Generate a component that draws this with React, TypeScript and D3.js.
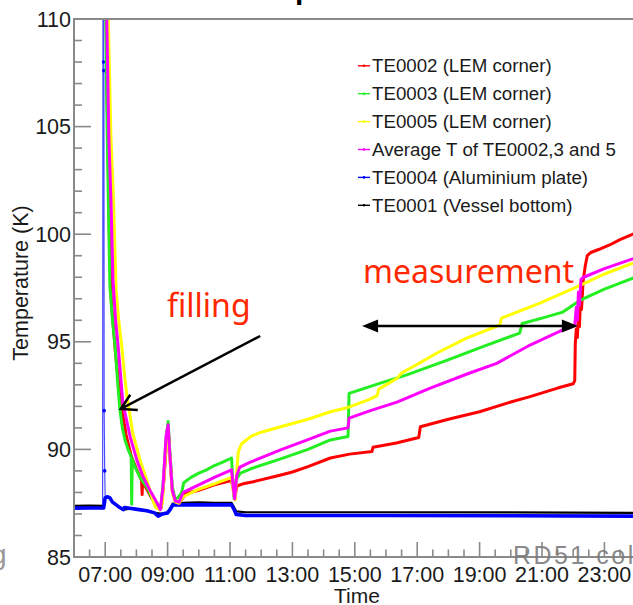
import React from "react";
import * as d3 from "d3";

type Pt = [string, number];

// Temperature logs, [clock time, kelvin]
const te0002: Pt[] = [
  ["07:00", 118], ["07:02", 110], ["07:05", 104.5], ["07:08", 100], ["07:12", 96.8], ["07:20", 94.4],
  ["07:30", 92.2], ["07:40", 90.7], ["07:50", 89.7], ["08:00", 89.1], ["08:10", 88.55], ["08:11", 87.9],
  ["08:12", 88.5], ["08:20", 88.15], ["08:28", 87.8], ["08:36", 87.5], ["08:44", 87.3], ["08:48", 87.3],
  ["08:53", 88.6], ["08:58", 90.4], ["09:01", 91.0], ["09:04", 89.8], ["09:09", 88.1], ["09:15", 87.6],
  ["09:22", 87.5], ["09:28", 87.7], ["09:35", 87.95], ["10:00", 88.1], ["10:30", 88.35], ["11:03", 88.55],
  ["11:06", 88.2], ["11:09", 87.7], ["11:13", 88.3], ["11:25", 88.4], ["11:45", 88.5], ["12:36", 88.8],
  ["13:00", 88.95], ["13:30", 89.2], ["14:13", 89.6], ["14:50", 89.78], ["15:33", 89.9], ["15:35", 90.1],
  ["16:20", 90.3], ["17:03", 90.55], ["17:06", 91.05], ["18:00", 91.4], ["19:00", 91.75], ["20:00", 92.2],
  ["20:37", 92.45], ["21:30", 92.85], ["22:00", 93.05], ["22:03", 93.2], ["22:04", 94.9], ["22:06", 95.6],
  ["22:08", 95.2], ["22:10", 96.3], ["22:12", 95.7], ["22:14", 97.0], ["22:16", 96.5], ["22:19", 97.8],
  ["22:23", 98.5], ["22:27", 99.0], ["22:34", 99.15], ["22:50", 99.3], ["23:10", 99.5], ["23:30", 99.75],
  ["24:00", 100.05],
];

const te0003: Pt[] = [
  ["07:00", 117], ["07:01", 110], ["07:03", 106.2], ["07:06", 101.6], ["07:09", 97.6], ["07:14", 96.0],
  ["07:19", 94.8], ["07:24", 93.1], ["07:28", 91.9], ["07:33", 91.0], ["07:38", 90.45], ["07:44", 90.0],
  ["07:50", 89.65], ["07:51", 87.45], ["07:52", 89.55], ["07:57", 89.2], ["08:07", 88.7], ["08:20", 88.25],
  ["08:32", 87.65], ["08:42", 87.35], ["08:47", 87.3], ["08:52", 88.6], ["08:57", 90.5], ["09:01", 91.3],
  ["09:04", 90.0], ["09:09", 88.3], ["09:14", 87.7], ["09:20", 87.75], ["09:27", 88.0], ["09:31", 88.45],
  ["09:45", 88.7], ["10:00", 88.9], ["10:15", 89.05], ["10:30", 89.25], ["10:45", 89.4], ["11:03", 89.6],
  ["11:05", 88.7], ["11:08", 87.7], ["11:12", 88.6], ["11:20", 88.9], ["11:40", 89.1], ["12:36", 89.55],
  ["13:30", 90.0], ["14:13", 90.44], ["14:47", 90.6], ["14:49", 92.6], ["15:20", 92.85], ["15:49", 93.08],
  ["16:40", 93.46], ["17:58", 94.15], ["19:14", 94.85], ["20:17", 95.4], ["20:22", 95.85], ["21:00", 96.1],
  ["21:40", 96.38], ["22:15", 96.95], ["23:00", 97.45], ["24:00", 98.0],
];

const te0005: Pt[] = [
  ["07:00", 122], ["07:06", 110], ["07:11", 104.5], ["07:16", 101.6], ["07:21", 97.4], ["07:26", 96.0],
  ["07:32", 94.77], ["07:37", 93.5], ["07:42", 92.44], ["07:53", 90.75], ["08:07", 89.5], ["08:20", 88.57],
  ["08:30", 87.8], ["08:36", 87.33], ["08:45", 87.2], ["08:50", 87.5], ["08:55", 89.5], ["09:01", 90.9],
  ["09:04", 89.8], ["09:09", 88.0], ["09:15", 87.55], ["09:22", 87.5], ["09:30", 87.8], ["10:00", 88.15],
  ["10:30", 88.4], ["11:03", 88.7], ["11:06", 88.1], ["11:10", 87.65], ["11:13", 89.0], ["11:16", 89.9],
  ["11:22", 90.25], ["11:40", 90.6], ["12:00", 90.8], ["12:36", 91.04], ["13:30", 91.4], ["14:13", 91.75],
  ["14:47", 91.95], ["15:26", 92.3], ["15:43", 92.5], ["15:46", 92.8], ["16:21", 93.3], ["16:30", 93.55],
  ["17:00", 93.95], ["17:38", 94.48], ["18:35", 95.17], ["19:39", 95.78], ["19:42", 96.1], ["20:56", 96.8],
  ["22:07", 97.55], ["23:00", 98.15], ["24:00", 98.7],
];

const average: Pt[] = [
  ["07:00", 120], ["07:03", 110], ["07:07", 104.5], ["07:11", 101.6], ["07:15", 97.87], ["07:20", 96.0],
  ["07:25", 94.77], ["07:34", 92.15], ["07:48", 90.58], ["08:01", 89.5], ["08:13", 88.72], ["08:26", 88.1],
  ["08:40", 87.5], ["08:46", 87.2], ["08:51", 88.2], ["08:57", 90.6], ["09:01", 91.15], ["09:04", 89.9],
  ["09:09", 88.1], ["09:15", 87.6], ["09:22", 87.55], ["09:30", 88.0], ["10:00", 88.35], ["10:30", 88.7],
  ["11:03", 89.05], ["11:06", 88.3], ["11:09", 87.7], ["11:13", 88.8], ["11:19", 89.18], ["11:38", 89.4],
  ["12:36", 89.97], ["13:30", 90.45], ["14:13", 90.85], ["14:47", 91.0], ["14:49", 91.45], ["15:30", 91.8],
  ["16:21", 92.2], ["17:25", 92.85], ["18:41", 93.55], ["19:33", 94.0], ["20:37", 94.85], ["21:40", 95.55],
  ["22:03", 95.75], ["22:06", 96.6], ["22:08", 96.0], ["22:10", 97.3], ["22:12", 96.7], ["22:15", 97.9],
  ["22:20", 98.0], ["23:00", 98.4], ["24:00", 98.9],
];

const te0004: Pt[] = [
  ["06:00", 87.27], ["06:30", 87.28], ["06:57", 87.28], ["07:00", 87.75], ["07:04", 87.8],
  ["07:09", 87.75], ["07:14", 87.55], ["07:25", 87.35], ["07:35", 87.2], ["07:37", 87.3], ["07:50", 87.25],
  ["08:05", 87.2], ["08:20", 87.15], ["08:35", 87.05], ["08:42", 86.9], ["08:50", 87.0], ["09:00", 87.05],
  ["09:06", 87.25], ["09:10", 87.42], ["09:30", 87.42], ["10:00", 87.42], ["10:30", 87.42], ["11:03", 87.42],
  ["11:07", 87.25], ["11:12", 86.98], ["11:30", 86.93], ["13:00", 86.93], ["16:00", 86.93], ["20:00", 86.92],
  ["24:00", 86.9],
];

// sparse readings of the aluminium plate during the fast transient
const te0004Spike: Pt[] = [
  ["06:55", 87.3], ["06:56", 120], ["06:57", 108.0], ["06:57:30", 107.6], ["06:58", 91.8], ["06:59", 89.0],
  ["07:00", 87.75],
];

const te0001: Pt[] = [
  ["06:00", 87.38], ["06:30", 87.39], ["06:57", 87.38], ["07:00", 87.75], ["07:04", 87.8],
  ["07:09", 87.75], ["07:14", 87.55], ["07:25", 87.35], ["07:35", 87.2], ["07:50", 87.25], ["08:05", 87.2],
  ["08:20", 87.15], ["08:35", 87.05], ["08:50", 87.0], ["09:00", 87.05], ["09:10", 87.48], ["09:30", 87.52],
  ["10:00", 87.54], ["10:30", 87.52], ["11:03", 87.52], ["11:07", 87.35], ["11:12", 87.12], ["11:30", 87.08],
  ["13:00", 87.08], ["16:00", 87.08], ["20:00", 87.07], ["24:00", 87.05],
];

const legendLabels = [
  "TE0002 (LEM corner)",
  "TE0003 (LEM corner)",
  "TE0005 (LEM corner)",
  "Average T of TE0002,3 and 5",
  "TE0004 (Aluminium plate)",
  "TE0001 (Vessel bottom)",
];
const legendColors = ["#ff0000", "#22ee22", "#ffff00", "#ff00ff", "#0000ff", "#000000"];

const xLabelHours = [7, 9, 11, 13, 15, 17, 19, 21, 23];
const yLabelValues = [85, 90, 95, 100, 105, 110];

// annotation anchors in data space: [time, kelvin]
const fillingArrow: Pt[] = [["11:58", 95.27], ["07:30", 91.88]];
const fillingLabel: Pt = ["08:59", 96.15];
const measurementArrow: Pt[] = [["15:14", 95.73], ["22:09", 95.73]];
const measurementLabel: Pt = ["15:16", 97.73];

const toHours = (t: string) => {
  const [h, m, s = "0"] = t.split(":");
  return +h + +m / 60 + +s / 3600;
};

const W = 633;
const H = 605;
const LEFT = 74;
const TOP = 19;
const BOTTOM = 557;
const HOUR_PX = 31.2;

const x = d3.scaleLinear().domain([6, 24]).range([LEFT, LEFT + 18 * HOUR_PX]);
const y = d3.scaleLinear().domain([85, 110]).range([BOTTOM, TOP]);

const line = d3
  .line<Pt>()
  .x((d) => x(toHours(d[0])))
  .y((d) => y(d[1]));

const AXIS = "#8a8a8a";
const SANS = "'Liberation Sans', Arial, sans-serif";
const NOTE = "'Noto Sans', 'Open Sans', sans-serif";
const NOTE_RED = "#ff2800";

export default function App() {
  // drawing order: vessel bottom, plate, then the LEM sensors and their average
  const series = [
    { data: te0001, color: legendColors[5], w: 2.2 },
    { data: te0004, color: legendColors[4], w: 3.6 },
    { data: te0002, color: legendColors[0], w: 3 },
    { data: te0003, color: legendColors[1], w: 3 },
    { data: te0005, color: legendColors[2], w: 3 },
    { data: average, color: legendColors[3], w: 3 },
  ];

  const xMinor = d3.range(6.5, 24.01, 0.5).filter((h) => !xLabelHours.includes(h));
  const yMinor = d3.range(86, 110, 1).filter((v) => v % 5 !== 0);

  const fa0 = [x(toHours(fillingArrow[0][0])), y(fillingArrow[0][1])];
  const fa1 = [x(toHours(fillingArrow[1][0])), y(fillingArrow[1][1])];
  const ang = Math.atan2(fa0[1] - fa1[1], fa0[0] - fa1[0]);
  const wing = (da: number) => [
    fa1[0] + 17 * Math.cos(ang + da),
    fa1[1] + 17 * Math.sin(ang + da),
  ];
  const w1 = wing(-0.5);
  const w2 = wing(0.55);

  const mx0 = x(toHours(measurementArrow[0][0]));
  const mx1 = x(toHours(measurementArrow[1][0]));
  const my = y(measurementArrow[0][1]);

  return (
    <svg
      width={W}
      height={H}
      style={{ position: "absolute", left: 0, top: 0, background: "#fff" }}
    >
      <defs>
        <clipPath id="plotArea">
          <rect x={LEFT} y={TOP} width={W - LEFT + 10} height={BOTTOM - TOP} />
        </clipPath>
      </defs>
      <rect width={W} height={H} fill="#fff" />

      {/* slide title, mostly outside the frame */}
      <text x={295} y={-1} fontFamily={SANS} fontWeight="bold" fontSize={30} fill="#000">
        p
      </text>
      <text x={-9} y={564} fontFamily={SANS} fontSize={28} fill="#999">
        g
      </text>

      {/* data */}
      <g clipPath="url(#plotArea)">
        <path d={line(te0004Spike) || ""} fill="none" stroke="#0000ff" strokeWidth={1.2} strokeOpacity={0.7} />
        {te0004Spike.slice(1, -1).map((d, i) => (
          <circle key={i} cx={x(toHours(d[0]))} cy={y(d[1])} r={1.8} fill="#0000ff" />
        ))}
        {series.map((s, i) => (
          <path
            key={i}
            d={line(s.data) || ""}
            fill="none"
            stroke={s.color}
            strokeWidth={s.w}
            strokeLinejoin="round"
            strokeLinecap="round"
          />
        ))}
      </g>

      {/* frame */}
      <line x1={LEFT} x2={W} y1={TOP} y2={TOP} stroke={AXIS} strokeWidth={2} />
      <line x1={LEFT} x2={LEFT} y1={TOP - 1} y2={BOTTOM + 1} stroke={AXIS} strokeWidth={2} />
      <line x1={LEFT} x2={W} y1={BOTTOM} y2={BOTTOM} stroke={AXIS} strokeWidth={2} />

      {/* x ticks */}
      {xLabelHours.map((h) => (
        <line key={"xM" + h} x1={x(h)} x2={x(h)} y1={BOTTOM} y2={BOTTOM - 15} stroke={AXIS} strokeWidth={1.6} />
      ))}
      {xMinor.map((h) => (
        <line key={"xm" + h} x1={x(h)} x2={x(h)} y1={BOTTOM} y2={BOTTOM - 7.5} stroke={AXIS} strokeWidth={1.6} />
      ))}

      {/* footer, beneath the tick labels */}
      <text
        x={513}
        y={564}
        fontFamily={SANS}
        fontSize={25}
        letterSpacing={2.5}
        fill="#7a7a7a"
        fillOpacity={0.9}
      >
        RD51 collaboration
      </text>

      {xLabelHours.map((h) => (
        <text
          key={"xl" + h}
          x={x(h)}
          y={582}
          textAnchor="middle"
          fontFamily={SANS}
          fontSize={21.5}
          fill="#1a1a1a"
        >
          {`${String(h).padStart(2, "0")}:00`}
        </text>
      ))}
      <text x={357} y={603} textAnchor="middle" fontFamily={SANS} fontSize={21} fill="#1a1a1a">
        Time
      </text>

      {/* y ticks */}
      {yLabelValues.map((v) => (
        <line key={"yM" + v} x1={LEFT} x2={LEFT + 17} y1={y(v)} y2={y(v)} stroke={AXIS} strokeWidth={1.6} />
      ))}
      {yMinor.map((v) => (
        <line key={"ym" + v} x1={LEFT} x2={LEFT + 8} y1={y(v)} y2={y(v)} stroke={AXIS} strokeWidth={1.6} />
      ))}
      {yLabelValues.map((v) => (
        <text
          key={"yl" + v}
          x={71}
          y={y(v) + 7.5}
          textAnchor="end"
          fontFamily={SANS}
          fontSize={21.5}
          fill="#1a1a1a"
        >
          {v}
        </text>
      ))}
      <text
        transform={`translate(28, 283) rotate(-90)`}
        textAnchor="middle"
        fontFamily={SANS}
        fontSize={21.5}
        fill="#1a1a1a"
      >
        Temperature (K)
      </text>

      {/* legend */}
      {legendLabels.map((label, i) => {
        const base = 72.3 + i * 27.9;
        return (
          <g key={label}>
            <line x1={358} x2={370} y1={base - 6.5} y2={base - 6.5} stroke={legendColors[i]} strokeWidth={1.4} />
            <circle cx={364} cy={base - 6.5} r={1.3} fill={legendColors[i]} />
            <text x={372} y={base} fontFamily={SANS} fontSize={18.7} fill="#1a1a1a">
              {label}
            </text>
          </g>
        );
      })}

      {/* annotations */}
      <text
        x={x(toHours(fillingLabel[0]))}
        y={y(fillingLabel[1])}
        fontFamily={NOTE}
        fontSize={32}
        fill={NOTE_RED}
      >
        filling
      </text>
      <line x1={fa0[0]} y1={fa0[1]} x2={fa1[0]} y2={fa1[1]} stroke="#000" strokeWidth={2.5} />
      <polyline
        points={`${w1[0]},${w1[1]} ${fa1[0]},${fa1[1]} ${w2[0]},${w2[1]}`}
        fill="none"
        stroke="#000"
        strokeWidth={2.5}
      />

      <text
        x={x(toHours(measurementLabel[0]))}
        y={y(measurementLabel[1])}
        fontFamily={NOTE}
        fontSize={32}
        fill={NOTE_RED}
      >
        measurement
      </text>
      <line x1={mx0 + 10} x2={mx1 - 10} y1={my} y2={my} stroke="#000" strokeWidth={2.5} />
      <polygon points={`${mx0},${my} ${mx0 + 16},${my - 6.5} ${mx0 + 16},${my + 6.5}`} fill="#000" />
      <polygon points={`${mx1},${my} ${mx1 - 16},${my - 6.5} ${mx1 - 16},${my + 6.5}`} fill="#000" />
    </svg>
  );
}
